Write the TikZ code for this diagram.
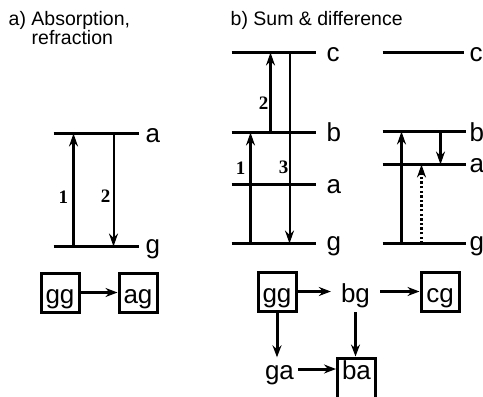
\documentclass[tikz,border=0pt]{standalone}
\usepackage{fontspec}
\setmainfont{Liberation Sans}
\newfontfamily\digitfont{Liberation Serif}
\usetikzlibrary{arrows.meta}
\begin{document}
\begin{tikzpicture}[x=1pt,y=-1pt,
  title/.style={anchor=base west, inner sep=0pt, font=\fontsize{19.5}{19.5}\selectfont},
  level/.style={line width=3pt},
  levlab/.style={anchor=base west, inner sep=0pt, font=\fontsize{26}{26}\selectfont},
  headtip/.style={-{Stealth[length=13pt,width=9pt,inset=4.5pt]}},
  thicktr/.style={headtip, line width=3pt},
  thintr/.style={headtip, line width=2pt},
  dottr/.style={headtip, line width=2.8pt, dash pattern=on 2.4pt off 2.2pt},
  num/.style={inner sep=0pt, font=\digitfont\bfseries\fontsize{19}{19}\selectfont},
  state/.style={inner sep=0pt, text height=22pt, text depth=1pt, font=\fontsize{26}{26}\selectfont},
  box/.style={state, draw, line width=3pt, minimum width=38pt, minimum height=39pt},
  link/.style={-{Stealth[length=12pt,width=9pt,inset=4pt]}, line width=3pt},
]
\useasboundingbox (0,0) rectangle (483,397);
\clip (0,0) rectangle (483,397);

\begin{scope}[shift={(0.5,0.5)}]
% titles
\node[title] (ta1) at (8,24.5) {a) Absorption,};
\node[title] (ta2) at (31,44) {refraction};
\node[title] (tb) at (230,25) {b) Sum \& difference};

% ---- a) two-level system ----
\coordinate (aAL) at (53,133);  \coordinate (aAR) at (138,133);
\coordinate (aGL) at (53,246);  \coordinate (aGR) at (138,246);
\draw[level] (aAL) -- (aAR);
\draw[level] (aGL) -- (aGR);
\node[levlab] (aAlab) at (145,142) {a};
\node[levlab] (aGlab) at (145,253) {g};
\coordinate (a1s) at (73,246);  \coordinate (a1e) at (73,133);
\coordinate (a2s) at (113,133); \coordinate (a2e) at (113,246);
\draw[thicktr] (a1s) -- (a1e);
\draw[thintr] (a2s) -- (a2e);
\node[num] (a1n) at (63,197) {1};
\node[num] (a2n) at (105,196) {2};

\node[box] (gA) at (59.5,292) {gg};
\node[box] (aA) at (137.5,292) {ag};
\draw[link] (gA) -- (aA);

% ---- b) sum frequency ----
\coordinate (bCL) at (231,52);   \coordinate (bCR) at (315,52);
\coordinate (bBL) at (231,132);  \coordinate (bBR) at (315,132);
\coordinate (bAL) at (231,184);  \coordinate (bAR) at (315,184);
\coordinate (bGL) at (231,243);  \coordinate (bGR) at (315,243);
\foreach \p in {C,B,A,G} \draw[level] (b\p L) -- (b\p R);
\node[levlab] (bClab) at (326,61) {c};
\node[levlab] (bBlab) at (326,141) {b};
\node[levlab] (bAlab) at (326,193) {a};
\node[levlab] (bGlab) at (326,250) {g};
\coordinate (b1s) at (250,243); \coordinate (b1e) at (250,132);
\coordinate (b2s) at (270,132); \coordinate (b2e) at (270,52);
\coordinate (b3s) at (289,52);  \coordinate (b3e) at (289,243);
\draw[thicktr] (b1s) -- (b1e);
\draw[thicktr] (b2s) -- (b2e);
\draw[thintr] (b3s) -- (b3e);
\node[num] (b1n) at (240,168) {1};
\node[num] (b2n) at (263,103) {2};
\node[num] (b3n) at (283,167) {3};

% ---- b) difference frequency ----
\coordinate (dCL) at (382,52);   \coordinate (dCR) at (463,52);
\coordinate (dBL) at (382,131);  \coordinate (dBR) at (465,131);
\coordinate (dAL) at (382,164);  \coordinate (dAR) at (465,164);
\coordinate (dGL) at (382,243);  \coordinate (dGR) at (465,243);
\foreach \p in {C,B,A,G} \draw[level] (d\p L) -- (d\p R);
\node[levlab] (dClab) at (469,61) {c};
\node[levlab] (dBlab) at (469,141) {b};
\node[levlab] (dAlab) at (469,172) {a};
\node[levlab] (dGlab) at (469,250) {g};
\coordinate (d1s) at (401,243); \coordinate (d1e) at (401,131);
\coordinate (d2s) at (440,131); \coordinate (d2e) at (440,164);
\coordinate (d3s) at (421,243); \coordinate (d3e) at (421,164);
\draw[thicktr] (d1s) -- (d1e);
\draw[thicktr] (d2s) -- (d2e);
\draw[dottr] (d3s) -- (d3e);

% ---- b) pathway graph ----
\node[box] (gB) at (276.5,291) {gg};
\node[state, inner xsep=10pt] (bB) at (355,291) {bg};
\node[box] (cB) at (439.5,291) {cg};
\node[state, inner xsep=4pt] (gaB) at (279,368.5) {ga};
\node[box, text height=12pt, text depth=11pt, minimum height=41pt] (baB) at (356,378) {ba};
\draw[link] (gB) -- (bB);
\draw[link] (bB) -- (cB);
\draw[link] (gB.south) -- (gB.south |- gaB.north);
\draw[link, shorten <=9pt] (bB.south) -- (bB.south |- baB.north);
\draw[link] (gaB.east) -- (gaB.east -| baB.west);
\end{scope}
\end{tikzpicture}
\end{document}
